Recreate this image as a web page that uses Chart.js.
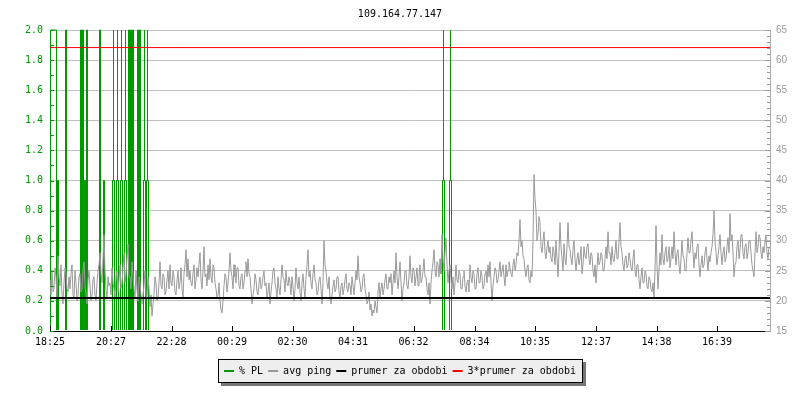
<!DOCTYPE html>
<html><head><meta charset="utf-8">
<script src="https://cdn.jsdelivr.net/npm/chart.js@4.4.1/dist/chart.umd.min.js"></script>
<style>html,body{margin:0;padding:0;background:#fff;}</style>
</head><body>
<canvas id="c" width="800" height="400"></canvas>
<script>
const chartTitle = '109.164.77.147';
// x axis: minutes since 18:25
const xMaxMinutes = 1440;
const tickMinutes = [0, 122, 243, 364, 485, 606, 727, 849, 970, 1092, 1213, 1334];
const tickLabels = ['18:25','20:27','22:28','00:29','02:30','04:31','06:32','08:34','10:35','12:37','14:38','16:39'];
// avg ping [ms], one sample per 2 minutes
const pingStepMinutes = 2;
const avgPing = [
 23.5,21,25,21.5,22,25.5,24,20.5,27.5,24,22.5,26,21,19.5,23,25.5,24.5,22,21.5,24,
 22,24.5,26,21,20.5,25,23,20,21,24,24.5,21.5,22,25,26.5,22.5,21,19.5,23.5,25,
 22.5,20,21,23.5,24,21,20,23,25,26,28,24.5,23,27,31,25,22,20.5,24,22.5,
 23,21,25.5,23,22,20.5,24,25,21.5,23.5,26,22,23,25.5,28,23,24.5,27,29.5,24,
 24,22,26.5,24,22,20.5,25,22,20,24,23,21,19.5,21,22.5,25,21,20.5,24,22,
 19,21,17.5,19.5,21,24,23,20,20.5,23,26.5,22.5,22,24.5,24,21,21.5,23.5,25,22,
 26,23,22.5,25,24,21.5,21,23.5,25,22,23,25.5,22,20.5,24.5,26,28.5,24,27,23.5,
 25,23,22.5,24.5,26,22,23.5,25.5,24,26,28,23.5,22,25,29,24,24.5,22.5,26,23.5,
 27,24,23,26,25.5,23,22,20.5,21,23,20,18.5,18,20,22.5,24.5,24,21.5,23,25,
 28,25,24,22,26,24,23,25.5,25.5,22.5,22,24,24.5,22,23,25,26.5,24,27,24.5,
 24,22,19.5,21,22,24.5,23.5,21.5,21,23,24,22,22.5,24,25,22.5,23,20.5,21.5,23,
 19.5,21.5,23,25,25.5,23,22,20.5,24,22,21,23.5,26,24,23.5,21.5,25,23,22.5,24,
 23,21,24,22.5,20,22,25.5,23,22,24,21.5,20,23,24.5,22,20.5,24,26,28.5,24,
 25,23,22,24.5,26,23.5,23,21,21.5,23.5,24,22,19.5,23,30,26,25,23,22,24,
 20.5,19.5,21,22.5,23.5,21.5,22,24,24,21.5,20.5,22.5,23,21,22,23.5,24.5,22,21.5,23,
 22.5,21,24,22.5,21,23,25,23.5,27.5,24,23,21.5,22,24,24.5,22,21,19.5,20,21.5,
 18.5,19.5,17.5,18.5,18,20,19,18,21.5,23,20.5,22,23,21,22,23.5,24.5,22,22,24,
 23,24.5,21,23,25,23,28,24,22,24,26.5,23,20,22,23,25,25,22.5,22,24,
 27.5,24,23,25.5,25,22.5,24,25.5,22.5,24,26,23,23.5,25,27,24,24,22,21,23,
 19.5,23,25,26.5,28.5,25,24,26.5,26,24,27,24.5,31,27,25,28,30.5,26,23,25,
 26,23.5,22,24,21,23,26,23.5,23,25,24.5,22,22,24,25,22.5,21.5,23,23.5,21.5,
 26,24,23,25,24.5,22,22,24.5,25.5,23,23,25,24,22,22.5,24.5,25,23,26,24,
 26.5,23,20,22.5,24,25.5,25,23,23.5,25,26.5,24,25,26,24,22.5,26,24,25,26.5,
 25.5,24.5,24,26,27,25,26,28,27.5,30,33.5,29,30,27.5,27,25,24,25.5,26,23.5,
 23,25,24,30,41,37,35,30,31,34,33,29,28,30,31.5,28,27,29,30,28,
 29,27,26.5,29,28,26,30,27,24,28,33,29,27,25,29.5,27,26,29,33,29,
 28.5,27,26,28.5,30,27,25,27,28,26,27,29,24.5,26,29,27.5,27,29,29.5,27,
 26,28,27.5,25,24,26,23,25.5,28,26,26.5,28,27.5,25,25,27,29,27,31.5,28,
 28,26,29,27,26.5,28,30,27,27,30,33,29,28,26,25,27,27.5,25.5,26,28,
 27,25.5,25,27,28.5,25,24,26,26,23.5,22,24,25.5,23,23,25,24.5,22.5,22,24,
 23.5,22,21.5,23,20.5,25,32.5,26,22,25,28,26,31,27,26,28,29,26.5,27,29,
 25.5,27,29,27,31.5,28,26,28,28.5,26,24.5,27,30,27.5,27,25,25,28,30.5,28,
 28,30,31.5,28,25.5,28,27,29,29.5,26,24,26,27.5,25.5,26,28,29,27,25,27.5,
 26.5,28,29,31,35,30,28,26,27.5,29,31,28,26,28,29,26.5,27,29,30.5,28,
 34.5,30,31,28,24,26,26.5,29,30,27,28.5,31,31,28,27,29,29.5,27,28,30,
 30,28,26,25,24,28,31.5,28,29,31,30.5,28,27,29,28,30,31,28,27,29
];
// % packet loss, step changes (minute, value held until the next change)
const plMinutes = [1,13,15,17, 31,33, 61,63,65,67,69,71,73,75, 99,101,107,109,
 125,127,127,129, 133,135,135,137, 141,143,143,145, 149,151,151,153,
 157,159,161,163,165,167, 175,177,179,181, 187,189,189,191, 193,195,195,197,
 785,787,787,789, 799,801,801,803, 1440];
const plValues = [2,0,1,0, 2,0, 2,0,2,0,1,0,2,0, 2,0,1,0,
 1,2,1,0, 1,2,1,0, 1,2,1,0, 1,2,1,0,
 2,0,2,0,2,0, 2,0,2,0, 1,2,1,0, 1,2,1,0,
 1,2,1,0, 1,2,1,0, 0];
const avgLine = 20.5;
const avg3Line = 62.08;

const MONO = 'DejaVu Sans Mono';
const GREEN = '#009900';
const GRAY = '#999999';
Chart.defaults.font.family = MONO;
Chart.defaults.font.size = 10;

const legendBox = {
  id: 'legendBox',
  beforeDraw(chart) {
    const lg = chart.legend;
    if (!lg || !lg.legendHitBoxes || !lg.legendHitBoxes.length) return;
    const hb = lg.legendHitBoxes, last = hb[hb.length - 1];
    const ctx = chart.ctx;
    const l = Math.round(hb[0].left) - 6, r = Math.round(last.left + last.width) + 7;
    const t = Math.round(hb[0].top) - 7, b = t + 24;
    ctx.save();
    ctx.fillStyle = '#777';
    ctx.fillRect(l + 3, t + 3, r - l, b - t);
    ctx.fillStyle = '#eeeeee';
    ctx.fillRect(l, t, r - l, b - t);
    ctx.strokeStyle = '#000';
    ctx.lineWidth = 1;
    ctx.strokeRect(l + 0.5, t + 0.5, r - l - 1, b - t - 1);
    ctx.restore();
  }
};

const axisTicks = {
  id: 'axisTicks',
  afterDraw(chart) {
    const ctx = chart.ctx, a = chart.chartArea;
    const y = chart.scales.y, y2 = chart.scales.y2, x = chart.scales.x;
    ctx.save();
    ctx.lineWidth = 1;
    ctx.strokeStyle = GREEN;
    ctx.beginPath();
    for (let v = 0; v <= 20; v++) {
      const py = Math.round(y.getPixelForValue(v / 10)) + 0.5;
      ctx.moveTo(a.left, py); ctx.lineTo(a.left + 4, py);
    }
    ctx.stroke();
    ctx.strokeStyle = '#999';
    ctx.beginPath();
    for (let v = 15; v <= 65; v++) {
      const py = Math.round(y2.getPixelForValue(v)) + 0.5;
      const len = v % 5 === 0 ? 5 : 3;
      ctx.moveTo(a.right - len, py); ctx.lineTo(a.right, py);
    }
    ctx.stroke();
    ctx.strokeStyle = '#000';
    ctx.beginPath();
    tickMinutes.forEach(t => {
      const px = Math.round(x.getPixelForValue(t)) + 0.5;
      ctx.moveTo(px, a.bottom); ctx.lineTo(px, a.bottom - 5);
    });
    ctx.stroke();
    ctx.restore();
  }
};

new Chart(document.getElementById('c').getContext('2d'), {
  type: 'line',
  data: {
    datasets: [
      { label: '% PL', data: plMinutes.map((t, i) => ({ x: t, y: plValues[i] })), yAxisID: 'y',
        borderColor: GREEN, backgroundColor: GREEN, borderWidth: 1, stepped: 'before',
        pointRadius: 0, fill: false, order: 4, clip: { left: 0, top: 1, right: 0, bottom: -1 } },
      { label: 'avg ping', data: avgPing.map((v, i) => ({ x: i * pingStepMinutes, y: v })), yAxisID: 'y2',
        borderColor: GRAY, backgroundColor: GRAY, borderWidth: 1, pointRadius: 0, fill: false, order: 3, tension: 0 },
      { label: 'prumer za obdobi', data: [{ x: 0, y: avgLine }, { x: xMaxMinutes, y: avgLine }], yAxisID: 'y2',
        borderColor: '#000000', backgroundColor: '#000000', borderWidth: 2, pointRadius: 0, fill: false, order: 2 },
      { label: '3*prumer za obdobi', data: [{ x: 0, y: avg3Line }, { x: xMaxMinutes, y: avg3Line }], yAxisID: 'y2',
        borderColor: '#ff0000', backgroundColor: '#ff0000', borderWidth: 1, pointRadius: 0, fill: false, order: 1 }
    ]
  },
  options: {
    responsive: false,
    animation: false,
    devicePixelRatio: 1,
    layout: { padding: { top: 0, left: 0, right: 0, bottom: 14 } },
    plugins: {
      title: { display: true, text: chartTitle, color: '#000', font: { family: MONO, size: 10, weight: 'normal' },
        padding: { top: 8, bottom: 10 } },
      legend: {
        position: 'bottom',
        labels: {
          boxWidth: 10, boxHeight: 2, padding: 5, color: '#000', font: { family: MONO, size: 10 },
          sort: (a, b) => a.datasetIndex - b.datasetIndex,
          generateLabels(chart) {
            const items = Chart.defaults.plugins.legend.labels.generateLabels(chart);
            items.forEach(it => { it.lineWidth = 0; it.fillStyle = chart.data.datasets[it.datasetIndex].borderColor; });
            return items;
          }
        }
      },
      tooltip: { enabled: false }
    },
    scales: {
      x: {
        type: 'linear', min: 0, max: xMaxMinutes,
        afterBuildTicks(s) { s.ticks = tickMinutes.map(v => ({ value: v })); },
        afterFit(s) { s.height = 30; },
        grid: { display: false, drawTicks: false },
        border: { color: '#000', width: 1 },
        ticks: { autoSkip: false, maxRotation: 0, padding: 5, color: '#000', font: { family: MONO, size: 10 },
          callback: (v, i) => tickLabels[i] }
      },
      y: {
        position: 'left', min: 0, max: 2,
        afterFit(s) { s.width = 50; },
        grid: { color: '#c0c0c0', drawTicks: false },
        border: { color: GREEN, width: 1 },
        ticks: { stepSize: 0.2, padding: 7, color: GREEN, font: { family: MONO, size: 10 },
          callback: v => Number(v).toFixed(1) }
      },
      y2: {
        position: 'right', min: 15, max: 65,
        afterFit(s) { s.width = 30; },
        grid: { display: false, drawTicks: false },
        border: { color: '#aaaaaa', width: 1 },
        ticks: { stepSize: 5, padding: 6, color: '#999', font: { family: 'Liberation Sans', size: 10 } }
      }
    }
  },
  plugins: [legendBox, axisTicks]
});
</script>
</body></html>
